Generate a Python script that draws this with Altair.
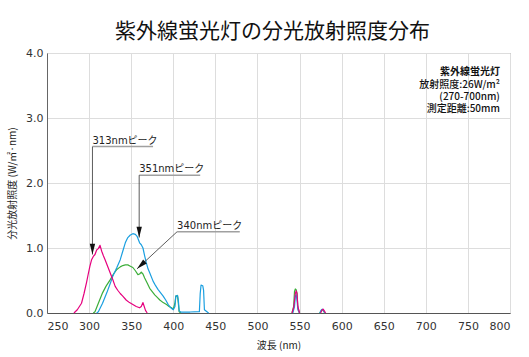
import altair as alt
import pandas as pd

# None marks a break in a curve
pink_wl = [282, 286, 291, 294, 297, 299, 301, 303, 305, 307, 309, 311, 313, 315, 317, 319, 322, 325, 328, 331, 334, 337, 340, 344, 348, 352, 356, 360, 362, 364, 365, 367, 369,
           None, 541, 543, 545, 546, 547, 548, 550,
           None, 575, 577, 578, 579, 581]
pink_val = [0, 0.05, 0.15, 0.30, 0.47, 0.60, 0.72, 0.82, 0.87, 0.90, 0.97, 0.99, 1.04, 0.95, 0.88, 0.82, 0.72, 0.62, 0.52, 0.41, 0.35, 0.30, 0.26, 0.20, 0.16, 0.13, 0.10, 0.08, 0.10, 0.16, 0.12, 0.04, 0,
            None, 0, 0.08, 0.30, 0.34, 0.30, 0.10, 0,
            None, 0, 0.05, 0.06, 0.04, 0]

blue_wl = [309, 311, 316, 321, 325, 328, 333, 337, 340, 343, 346, 349, 352, 355, 357, 360, 362, 364, 366, 368, 370, 372, 376, 379, 382, 385, 388, 391, 394, 397, 400, 402, 403, 405, 406, 407, 409, 420, 431, 432, 433, 435, 436, 437, 440, 442,
           None, 542, 544, 545, 546, 547, 548, 550,
           None, 574, 576, 577, 578, 580]
blue_val = [0, 0.02, 0.15, 0.31, 0.45, 0.56, 0.70, 0.82, 0.95, 1.08, 1.16, 1.20, 1.22, 1.21, 1.18, 1.08, 1.05, 1.00, 0.88, 0.77, 0.68, 0.62, 0.49, 0.42, 0.36, 0.31, 0.26, 0.20, 0.13, 0.08, 0.05, 0.10, 0.26, 0.27, 0.20, 0.03, 0.015, 0.015, 0.02, 0.30, 0.43, 0.42, 0.35, 0.05, 0.02, 0,
            None, 0, 0.10, 0.26, 0.28, 0.20, 0.05, 0,
            None, 0, 0.05, 0.06, 0.05, 0]

green_wl = [305, 307, 311, 316, 320, 325, 329, 333, 337, 340, 343, 346, 349, 352, 355, 358, 360, 362, 364, 366, 369, 372, 375, 378, 381, 384, 388, 392, 395, 398, 400, 402, 403, 405, 406, 407, 409,
            None, 541, 543, 544, 545, 546, 547, 548, 550,
            None, 574, 576, 577, 578, 580]
green_val = [0, 0.02, 0.15, 0.31, 0.41, 0.51, 0.60, 0.67, 0.71, 0.73, 0.74, 0.74, 0.72, 0.70, 0.65, 0.59, 0.60, 0.63, 0.60, 0.54, 0.46, 0.38, 0.33, 0.28, 0.24, 0.20, 0.16, 0.13, 0.10, 0.08, 0.06, 0.15, 0.26, 0.27, 0.15, 0.02, 0,
             None, 0, 0.10, 0.33, 0.37, 0.36, 0.30, 0.08, 0,
             None, 0, 0.04, 0.05, 0.04, 0]

series_names = ["green", "blue", "pink"]
series_colors = ["#3cae3a", "#1a9fe0", "#e6007e"]

# annotations
ann_text = ["313nmピーク", "351nmピーク", "340nmピーク"]
ann_x = [304, 359.5, 404.5]        # start of label / leader line
ann_x_end = [376, 432, 479]        # end of underline
ann_y = [2.56, 2.12, 1.25]         # underline level
ann_tip_x = [304, 359.5, 357]      # arrow tip
ann_tip_y = [0.90, 1.16, 0.68]
ann_angle = [0, 0, 47]

note_lines = ["紫外線蛍光灯", "放射照度:26W/m²", "(270-700nm)", "測定距離:50mm"]
note_y = [3.66, 3.465, 3.27, 3.085]
note_x = [788, 788, 788, 788]
note_bold = [True, False, False, False]

x_ticks = list(range(250, 801, 50))
y_ticks = [0, 1, 2, 3, 4]

FONT = "DejaVu Sans, Noto Sans CJK JP"
JP = "Noto Sans CJK JP"


def build(name, wl, val):
    rows, seg = [], 0
    for w, v in zip(wl, val):
        if w is None:
            seg += 1
            continue
        rows.append({"series": name, "seg": f"{name}{seg}", "wl": w, "val": v})
    return rows


rows = build("green", green_wl, green_val) + build("blue", blue_wl, blue_val) + build("pink", pink_wl, pink_val)
df = pd.DataFrame(rows)

ann = pd.DataFrame({"text": ann_text, "x": ann_x, "x2": ann_x_end, "y": ann_y,
                    "tx": ann_tip_x, "ty": ann_tip_y, "angle": ann_angle})
notes = pd.DataFrame({"text": note_lines, "x": note_x, "y": note_y, "b": note_bold})

xscale = alt.Scale(domain=[250, 800], nice=False, zero=False)
yscale = alt.Scale(domain=[0, 4], nice=False)

xax = alt.Axis(values=x_ticks, title="波長 (nm)", ticks=False, labelPadding=7,
               labelFont=FONT, labelFontSize=11, labelColor="#333",
               titleFont=JP, titleFontSize=10, titleFontWeight="normal", titleColor="#222",
               titleY=35, titleBaseline="alphabetic",
               grid=True, gridColor="#dddddd", domainColor="#555", domainWidth=1.2)
yax = alt.Axis(values=y_ticks, format=".1f", title="分光放射照度 (W/㎡·nm)", ticks=False, labelPadding=4,
               labelFont=FONT, labelFontSize=11, labelColor="#333",
               titleFont=JP, titleFontSize=10, titleFontWeight="normal", titleColor="#222",
               titleX=-30,
               grid=True, gridColor="#dddddd", domainColor="#666", domainWidth=1)


def X(f):
    return alt.X(f, scale=xscale, axis=xax)


def Y(f):
    return alt.Y(f, scale=yscale, axis=yax)


layers = []
for name, col in zip(series_names, series_colors):
    layers.append(
        alt.Chart(df).transform_filter(alt.datum.series == name)
        .mark_line(color=col, strokeWidth=1.2, strokeJoin="round")
        .encode(x=X("wl:Q"), y=Y("val:Q"), detail="seg:N")
    )

base_ann = alt.Chart(ann)
underline = base_ann.mark_rule(color="#a0a0a0", strokeWidth=1.5).encode(
    x=X("x:Q"), x2="x2:Q", y=Y("y:Q"))
leader = base_ann.mark_rule(color="#333", strokeWidth=0.8).encode(
    x=X("x:Q"), x2="tx:Q", y=Y("y:Q"), y2="ty:Q")
heads = base_ann.mark_point(shape="M-0.45,-1.8L0.45,-1.8L0,0Z", filled=True, color="#111", opacity=1, size=144).encode(
    x=X("tx:Q"), y=Y("ty:Q"), angle=alt.Angle("angle:Q", scale=None))
labels = base_ann.mark_text(align="left", baseline="alphabetic", dy=-3, font=FONT, fontSize=10, color="#222").encode(
    x=X("x:Q"), y=Y("y:Q"), text="text:N")

note_base = alt.Chart(notes).encode(x=X("x:Q"), y=Y("y:Q"), text="text:N")
note_b = note_base.transform_filter(alt.datum.b == True).mark_text(
    align="right", baseline="alphabetic", font=JP, fontSize=10, fontWeight="bold", color="#111")
note_n = note_base.transform_filter(alt.datum.b == False).mark_text(
    align="right", baseline="alphabetic", font=JP, fontSize=10, fontWeight=500, color="#111")

chart = alt.layer(*layers, underline, leader, heads, labels, note_b, note_n).properties(
    width=463, height=260,
    autosize=alt.AutoSizeParams(type="none"),
    padding={"left": 47, "top": 53, "right": 19, "bottom": 44},
    title=alt.TitleParams("紫外線蛍光灯の分光放射照度分布", font=JP, fontSize=21, fontWeight="normal",
                          color="#111", anchor="middle", dx=-6, dy=24, offset=12, baseline="alphabetic"),
).configure_view(stroke="#888", strokeWidth=1)

chart.save("out.html", embed_options={"renderer": "svg", "actions": False})
